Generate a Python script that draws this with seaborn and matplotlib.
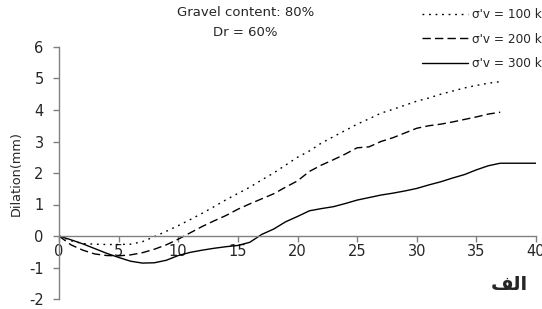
import numpy as np
import pandas as pd
import matplotlib
matplotlib.use("Agg")
import matplotlib.pyplot as plt
import seaborn as sns

# data
x_100 = list(range(0, 38))
y_100 = [0, -0.15, -0.24, -0.26, -0.27, -0.27, -0.26, -0.18, -0.02, 0.15,
         0.33, 0.52, 0.72, 0.93, 1.15, 1.35, 1.55, 1.78, 2.0, 2.25,
         2.5, 2.7, 2.95, 3.15, 3.35, 3.55, 3.72, 3.9, 4.02, 4.15,
         4.28, 4.38, 4.5, 4.6, 4.7, 4.78, 4.85, 4.9]

x_200 = list(range(0, 38))
y_200 = [0, -0.28, -0.45, -0.57, -0.62, -0.63, -0.6, -0.53, -0.42, -0.28,
         -0.1, 0.1, 0.3, 0.48, 0.65, 0.85, 1.02, 1.18, 1.34, 1.55,
         1.75, 2.05, 2.25, 2.42, 2.6, 2.8, 2.83, 3.0, 3.12, 3.27,
         3.42, 3.5, 3.55, 3.62, 3.7, 3.78, 3.87, 3.93]

x_300 = list(range(0, 41))
y_300 = [0, -0.12, -0.25, -0.4, -0.55, -0.68, -0.8, -0.86, -0.85, -0.77,
         -0.62, -0.52, -0.45, -0.39, -0.34, -0.3, -0.2, 0.05, 0.22, 0.45,
         0.62, 0.8, 0.87, 0.93, 1.03, 1.14, 1.22, 1.3, 1.36, 1.43,
         1.51, 1.62, 1.72, 1.84, 1.95, 2.1, 2.23, 2.31, 2.31, 2.31, 2.31]

labels = ["σ'v = 100 kPa", "σ'v = 200 kPa", "σ'v = 300 kPa"]
x_ticks = [0, 5, 10, 15, 20, 25, 30, 35, 40]
y_ticks = [-2, -1, 0, 1, 2, 3, 4, 5, 6]

sns.set_theme(style="white")
plt.rcParams['font.family'] = ['DejaVu Sans']
plt.rcParams['axes.unicode_minus'] = False

fig = plt.figure(figsize=(5.42, 3.09), dpi=100)
ax = fig.add_axes([59 / 542, 1 - 299 / 309, 477 / 542, 252 / 309])

lw = 1.0
sns.lineplot(x=x_100, y=y_100, ax=ax, color="black", linewidth=lw,
             linestyle=(0, (1.3, 3.4)), label=labels[0])
sns.lineplot(x=x_200, y=y_200, ax=ax, color="black", linewidth=lw,
             linestyle=(0, (6, 3)), label=labels[1])
sns.lineplot(x=x_300, y=y_300, ax=ax, color="black", linewidth=lw,
             linestyle="-", label=labels[2])

ax.set_xlim(0, 40)
ax.set_ylim(-2, 6)
ax.set_xticks(x_ticks)
ax.set_yticks(y_ticks)

# axes styling: x axis crosses at y = 0
spine_col = "#808080"
for s in ["top", "right"]:
    ax.spines[s].set_visible(False)
ax.spines["bottom"].set_position(("data", 0))
for s in ["bottom", "left"]:
    ax.spines[s].set_color(spine_col)
    ax.spines[s].set_linewidth(1.0)
ax.tick_params(axis="x", direction="out", length=4, width=1, color=spine_col,
               labelsize=10.5, pad=2, bottom=True)
ax.tick_params(axis="y", direction="out", length=4, width=1, color=spine_col,
               labelsize=10.5, pad=7, left=True)
ax.grid(False)

ax.set_xlabel("")
ax.set_ylabel("Dilation(mm)", fontsize=9.3)
ax.yaxis.set_label_coords(-0.0755, 0.5)

ax.legend(loc="upper left", bbox_to_anchor=(421.7 / 542, 1 - 8.5 / 309),
          bbox_transform=fig.transFigure, frameon=False, fontsize=8.7,
          handlelength=3.8, handletextpad=0.33, labelspacing=0.92,
          borderpad=0, borderaxespad=0)

fig.text(246 / 542, 1 - 12 / 309, "Gravel content: 80%", ha="center", va="center",
         fontsize=9.5)
fig.text(245 / 542, 1 - 32 / 309, "Dr = 60%", ha="center", va="center",
         fontsize=9.5)

# Arabic label "الف" written with presentation forms so it reads correctly
fig.text(509 / 542, 1 - 284 / 309, "\ufed2\ufedf\ufe8d", ha="center", va="center",
         fontsize=14, fontweight="bold", family=["DejaVu Sans"])

fig.savefig("out.png", dpi=100)
